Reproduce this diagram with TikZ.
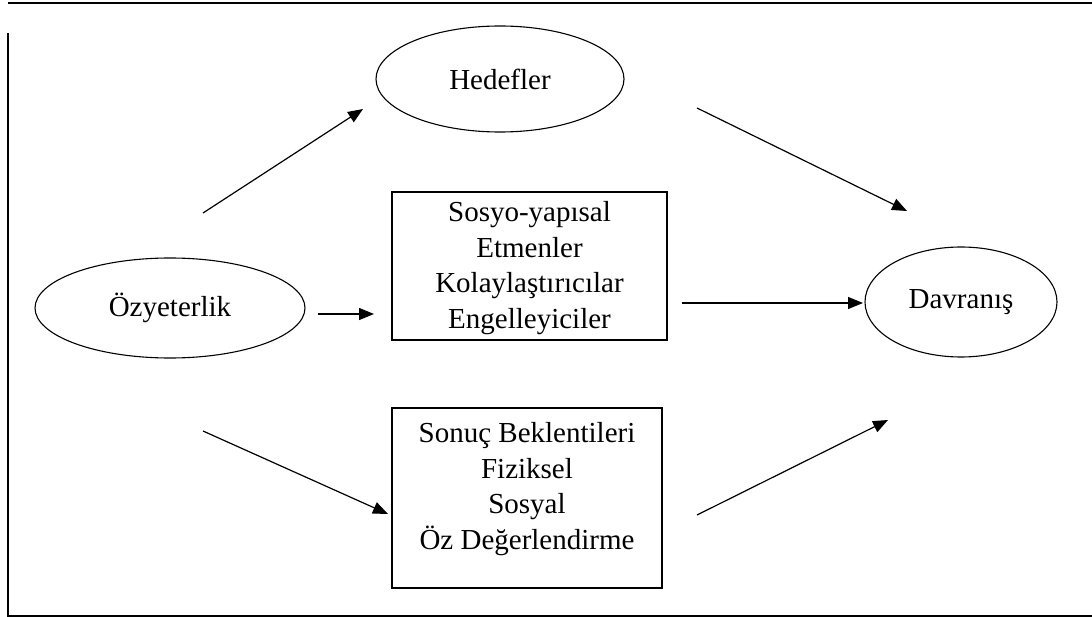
\documentclass[tikz,border=0pt]{standalone}
\usepackage{fontspec}
\setmainfont{Liberation Serif}
\usetikzlibrary{arrows.meta,shapes.geometric}
\begin{document}
\begin{tikzpicture}[x=1pt,y=-1pt,
  lbl/.style={font=\fontsize{29}{35.5}\selectfont, text=black},
  oval/.style={draw, ellipse, line width=1.1pt, inner sep=0pt, lbl},
  boxed/.style={draw, rectangle, line width=1.1pt, inner sep=0pt},
  arr/.style={line width=1.2pt, -{Triangle[length=15pt,width=12pt]}},
  frame/.style={line width=1.6pt}]
\fill[white] (0,0) rectangle (1092,617);
\useasboundingbox (0,0) rectangle (1092,617);
\draw[frame] (8,3) -- (1092,3);
\draw[frame] (8,33) -- (8,616) -- (1092,616);

\node[oval, minimum width=248pt, minimum height=106pt] (hed) at (500,79) {Hedefler};
\node[oval, minimum width=270pt, minimum height=100pt] (ozy) at (170,308) {Özyeterlik};
\node[oval, minimum width=192pt, minimum height=110pt] (dav) at (961,302) {Davranış};
\node[boxed, minimum width=275pt, minimum height=148pt] (sos) at (529.5,266) {};
\node[lbl, align=center] (sost) at (529.5,268) {Sosyo-yapısal\\Etmenler\\Kolaylaştırıcılar\\Engelleyiciler};
\node[boxed, minimum width=270pt, minimum height=180pt] (son) at (527,498) {};
\node[lbl, align=center] (sont) at (527,489) {Sonuç Beklentileri\\Fiziksel\\Sosyal\\Öz Değerlendirme};

\coordinate (a1s) at (203,213); \coordinate (a1e) at (363,109);
\coordinate (a2s) at (697,108); \coordinate (a2e) at (907,211);
\coordinate (a3s) at (318,314); \coordinate (a3e) at (374,314);
\coordinate (a4s) at (682,303); \coordinate (a4e) at (863,303);
\coordinate (a5s) at (203,431); \coordinate (a5e) at (388,514);
\coordinate (a6s) at (697,515); \coordinate (a6e) at (888,420);
\draw[arr] (a1s) -- (a1e);
\draw[arr] (a2s) -- (a2e);
\draw[arr] (a3s) -- (a3e);
\draw[arr] (a4s) -- (a4e);
\draw[arr] (a5s) -- (a5e);
\draw[arr] (a6s) -- (a6e);
\end{tikzpicture}
\end{document}
